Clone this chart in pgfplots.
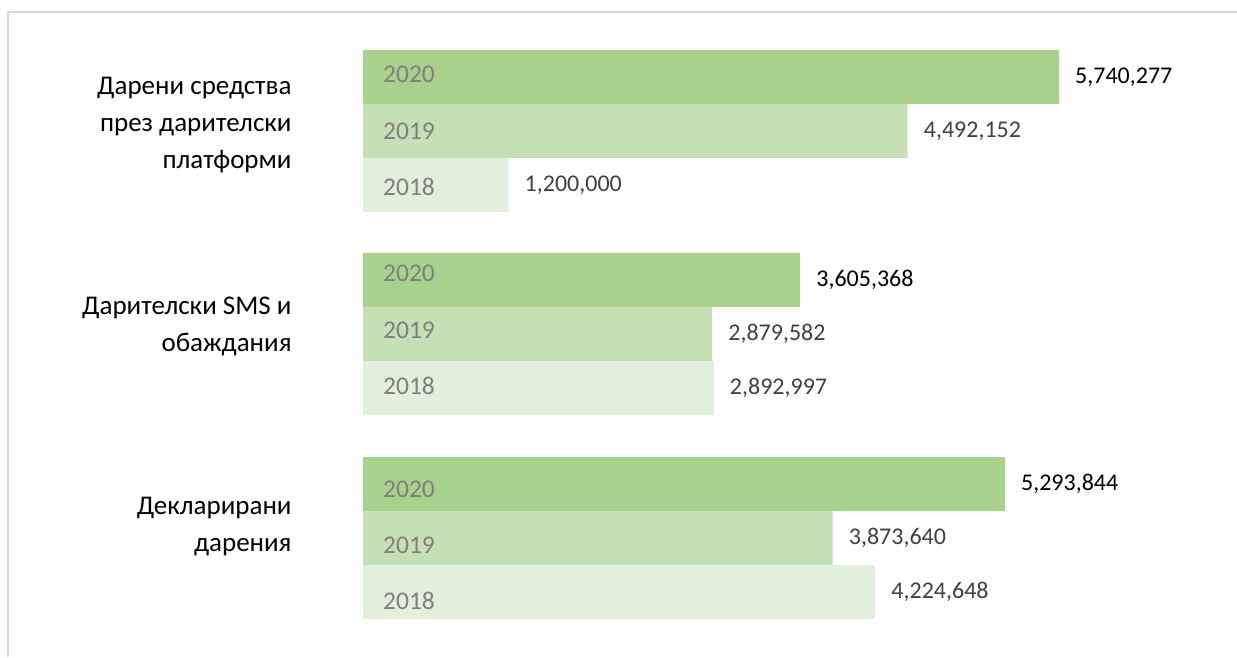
\documentclass[border=0pt]{standalone}
\usepackage{pgfplots}
\pgfplotsset{compat=1.18}
\usepackage{fontspec}
\setmainfont{Carlito}
\definecolor{c2020}{HTML}{A9D18E}
\definecolor{c2019}{HTML}{C5E0B4}
\definecolor{c2018}{HTML}{E2EFDA}
\definecolor{valgrey}{HTML}{404040}
\definecolor{yeargrey}{HTML}{7F7F7F}
\definecolor{framegrey}{HTML}{D9D9D9}
\begin{document}
\begin{tikzpicture}
\path[use as bounding box] (0pt,0pt) rectangle (1237pt,657pt);
\draw[framegrey, line width=2pt] (8pt,0pt) -- (8pt,645pt) -- (1237pt,645pt);
\begin{axis}[
  at={(363pt,0pt)}, anchor=south west,
  scale only axis, width=848.75pt, height=657pt,
  xmin=0, xmax=7000000, ymin=0, ymax=657,
  xbar, bar shift=0pt, bar width=54pt,
  clip=false,
  axis line style={draw=none},
  tick style={draw=none},
  xtick=\empty,
  ytick={130,331,532},
  yticklabels={{Декларирани\\дарения},{Дарителски SMS и\\обаждания},{Дарени средства\\през дарителски\\платформи}},
  yticklabel style={align=right, inner sep=0pt, xshift=-67pt, text=black, font=\fontsize{27}{37}\selectfont},
  point meta=explicit symbolic,
  nodes near coords,
  nodes near coords style={anchor=west, inner sep=0pt, xshift=16pt, font=\fontsize{24}{29}\selectfont},
]
% 2020
\addplot[draw=none, fill=c2020, nodes near coords style={text=black}] coordinates {
  (5740277,580) [{5,740,277}]
  (3605368,377) [{3,605,368}]
  (5293844,173) [{5,293,844}]
};
% 2019
\addplot[draw=none, fill=c2019, nodes near coords style={text=valgrey}] coordinates {
  (4492152,526) [{4,492,152}]
  (2879582,323) [{2,879,582}]
  (3873640,119) [{3,873,640}]
};
% 2018
\addplot[draw=none, fill=c2018, nodes near coords style={text=valgrey}] coordinates {
  (1200000,472) [{1,200,000}]
  (2892997,269) [{2,892,997}]
  (4224648,65) [{4,224,648}]
};
% year labels inside the bars
\addplot[draw=none, fill=none, nodes near coords style={text=yeargrey, xshift=4pt, font=\fontsize{25.5}{30}\selectfont}] coordinates {
  (0,583) [2020] (0,526) [2019] (0,470) [2018]
  (0,384) [2020] (0,327) [2019] (0,271) [2018]
  (0,168) [2020] (0,112) [2019] (0,56) [2018]
};
\end{axis}
\end{tikzpicture}
\end{document}
